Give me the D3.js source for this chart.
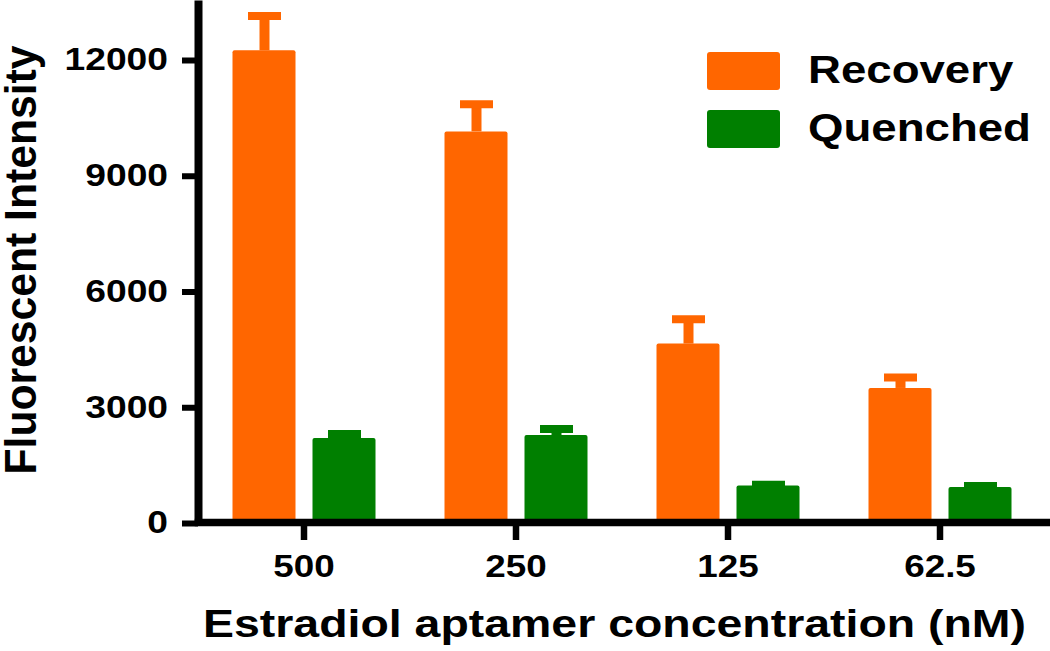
<!DOCTYPE html>
<html>
<head>
<meta charset="utf-8">
<script src="https://cdn.jsdelivr.net/npm/d3@7/dist/d3.min.js"></script>
<style>
  html, body { margin: 0; padding: 0; background: #fff; }
  text { font-family: "Liberation Sans", Arial, sans-serif; font-weight: bold; fill: #000; }
</style>
</head>
<body>
<div id="chart"></div>
<script>
var width = 1050;
var height = 651;

// data
var categories = ["500", "250", "125", "62.5"];
var series = ["Recovery", "Quenched"];
var recovery = [12250, 10150, 4650, 3500];
var recoverySD = [890, 700, 630, 270];
var quenched = [2200, 2280, 970, 930];
var quenchedSD = [105, 155, 20, 30];
var yTicks = [0, 3000, 6000, 9000, 12000];

//colors
var orange = '#FF6600';
var green = '#007F00';
var colors = [orange, green];

var plotLeft = 198, plotRight = 1046, plotTop = 0, plotBottom = 523;
var stretch = 1.2; // the picture is wider than it is tall

var svg = d3.select("#chart")
	.append("svg")
	.attr("width", width)
	.attr("height", height);

var x0 = d3.scaleBand()
	.domain(categories)
	.range([plotLeft, plotRight]);

var x1 = d3.scaleBand()
	.domain(series)
	.range([34.5, 34.5 + 143])
	.paddingInner(17 / 80);

var y = d3.scaleLinear()
	.domain([0, 13555])
	.range([plotBottom, plotTop]);

//stretch text horizontally to match the picture
function widen(sel, k) {
	sel.each(function() {
		var len = this.getComputedTextLength();
		d3.select(this)
			.attr("textLength", len * k)
			.attr("lengthAdjust", "spacingAndGlyphs");
	});
}

var rows = categories.map(function(c, i) {
	return [
		{cat: c, s: series[0], v: recovery[i], sd: recoverySD[i], color: orange},
		{cat: c, s: series[1], v: quenched[i], sd: quenchedSD[i], color: green}
	];
});

var groups = svg.selectAll(".group")
	.data(rows)
	.enter().append("g")
	.attr("class", "group")
	.attr("transform", function(d) { return "translate(" + x0(d[0].cat) + ",0)"; });

//error bars (upper half only)
groups.selectAll(".stem")
	.data(function(d) { return d; })
	.enter().append("line")
	.attr("x1", function(d) { return x1(d.s) + x1.bandwidth() / 2 + 0.5; })
	.attr("x2", function(d) { return x1(d.s) + x1.bandwidth() / 2 + 0.5; })
	.attr("y1", function(d) { return y(d.v); })
	.attr("y2", function(d) { return y(d.v + d.sd); })
	.style("stroke", function(d) { return d.color; })
	.style("stroke-width", 10);

groups.selectAll(".cap")
	.data(function(d) { return d; })
	.enter().append("line")
	.attr("x1", function(d) { return x1(d.s) + x1.bandwidth() / 2 - 16; })
	.attr("x2", function(d) { return x1(d.s) + x1.bandwidth() / 2 + 17; })
	.attr("y1", function(d) { return y(d.v + d.sd); })
	.attr("y2", function(d) { return y(d.v + d.sd); })
	.style("stroke", function(d) { return d.color; })
	.style("stroke-width", 8);

groups.selectAll(".bar")
	.data(function(d) { return d; })
	.enter().append("rect")
	.attr("class", "bar")
	.attr("x", function(d) { return x1(d.s); })
	.attr("y", function(d) { return y(d.v); })
	.attr("width", x1.bandwidth())
	.attr("height", function(d) { return y(0) - y(d.v); })
	.attr("rx", 2)
	.style("fill", function(d) { return d.color; });

//axes
var yAxis = svg.append("g")
	.attr("transform", "translate(" + plotLeft + ",0)")
	.call(d3.axisLeft(y).tickValues(yTicks).tickFormat(d3.format("d")).tickSize(16).tickSizeOuter(0).tickPadding(14));

yAxis.select(".domain").style("stroke", "#000").style("stroke-width", 8);
yAxis.selectAll(".tick line").style("stroke", "#000").style("stroke-width", 6);
yAxis.selectAll(".tick text")
	.style("font-size", "31px")
	.call(widen, stretch);

var xAxis = svg.append("g")
	.attr("transform", "translate(0," + (plotBottom - 1) + ")")
	.call(d3.axisBottom(x0).tickSize(18).tickSizeOuter(0).tickPadding(14));

xAxis.select(".domain").style("stroke", "#000").style("stroke-width", 7.5).style("stroke-linecap", "square");
xAxis.selectAll(".tick line").style("stroke", "#000").style("stroke-width", 6.5);
xAxis.selectAll(".tick text")
	.style("font-size", "32px")
	.call(widen, 1.15);

//axis titles
svg.append("text")
	.attr("x", 203)
	.attr("y", 637)
	.style("font-size", "39px")
	.text("Estradiol aptamer concentration (nM)")
	.attr("textLength", 823)
	.attr("lengthAdjust", "spacingAndGlyphs");

svg.append("g")
	.attr("transform", "translate(36,260) scale(" + stretch + ",1) rotate(-90)")
	.append("text")
	.attr("text-anchor", "middle")
	.style("font-size", "37px")
	.text("Fluorescent Intensity")
	.attr("textLength", 429)
	.attr("lengthAdjust", "spacingAndGlyphs");

//legend
var legend = svg.selectAll(".legend")
	.data(series)
	.enter().append("g")
	.attr("class", "legend")
	.attr("transform", function(d, i) { return "translate(707," + (52 + i * 58) + ")"; });

legend.append("rect")
	.attr("width", 73)
	.attr("height", 38)
	.attr("rx", 3)
	.style("fill", function(d, i) { return colors[i]; });

legend.append("text")
	.attr("x", 101)
	.attr("y", 31)
	.style("font-size", "38px")
	.text(function(d) { return d; })
	.call(widen, stretch);
</script>
</body>
</html>
